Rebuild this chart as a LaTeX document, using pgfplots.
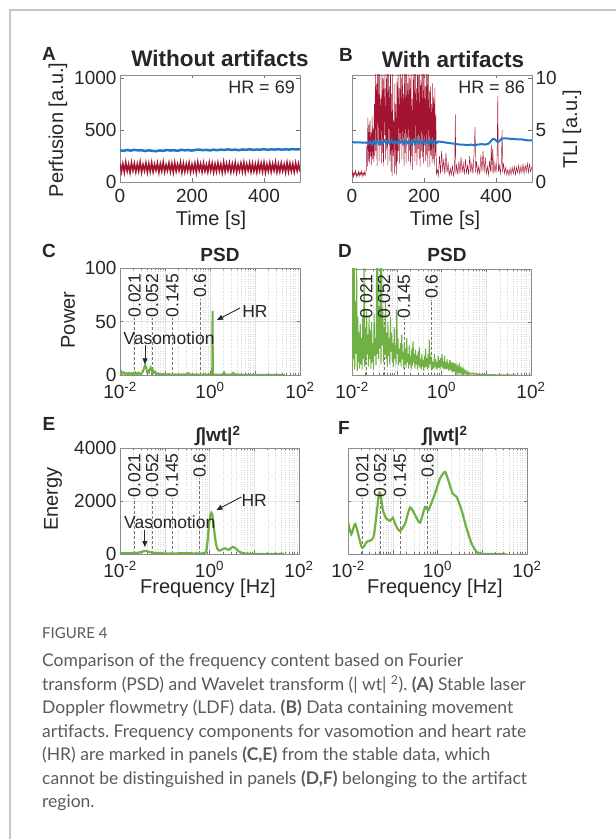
\documentclass[border=0pt]{standalone}
\usepackage{fontspec}
\setmainfont{Liberation Sans}
\newfontfamily\capfont{Lato}
\usepackage{pgfplots}
\pgfplotsset{compat=1.18}
\usetikzlibrary{arrows.meta}
\frenchspacing
\definecolor{mred}{RGB}{162,20,47}
\definecolor{mblue}{RGB}{30,120,200}
\definecolor{mgreen}{RGB}{113,176,68}
\definecolor{txt}{RGB}{38,38,38}
\definecolor{capgray}{RGB}{90,90,90}
\newcommand\fs[1]{\fontsize{#1}{#1}\selectfont}
\pgfplotsset{
  mybase/.style={scale only axis, anchor=south west,
    axis line style={draw=black!45, line width=0.6pt},
    every tick/.style={black!55, line width=0.5pt},
    tick align=inside, major tick length=3.5pt, minor tick length=2pt,
    tick label style={font=\fs{19}, text=txt},
    xticklabel style={yshift=-4pt},
    clip=true},
  myspec/.style={mybase, xmin=0.01, xmax=100,
    xtick={0.01,0.1,1,10,100},
    xticklabels={10\textsuperscript{-2},,10\textsuperscript{0},,10\textsuperscript{2}},
    minor xtick={0.02,0.03,0.04,0.05,0.06,0.07,0.08,0.09,0.2,0.3,0.4,0.5,0.6,0.7,0.8,0.9,2,3,4,5,6,7,8,9,20,30,40,50,60,70,80,90},
    xmajorgrids, xminorgrids, ymajorgrids,
    major grid style={black!12, line width=0.4pt},
    minor grid style={black!16, dotted, line width=0.4pt}},
}
\tikzset{
  vl/.style={black!55, dash pattern=on 3pt off 2pt, line width=0.6pt},
  vlab/.style={rotate=90, anchor=east, font=\fs{17.5}, text=txt, inner sep=0pt},
  ann/.style={font=\fs{17.5}, text=txt, inner sep=0pt},
  arr/.style={-{Triangle[length=6pt,width=5pt]}, line width=0.9pt, draw=txt},
}
\begin{document}
\begin{tikzpicture}
\path[use as bounding box] (0pt,0pt) rectangle (616pt,839pt);
\draw[black!22, line width=1.2pt] (10pt,0pt) -- (10pt,829pt) -- (616pt,829pt);

% ---------------- A ----------------
\begin{axis}[mybase, at={(120pt,657pt)}, width=180pt, height=107pt,
  xmin=0, xmax=500, ymin=0, ymax=1030,
  xtick={0,200,400}, xticklabels={0,200,400},
  ytick={0,500,1000}, yticklabels={0,500,1000}]
\addplot[mred, line width=1.6pt] coordinates {(0,180)(4,100)(8,175)(12,95)(16,188)(20,105)(24,170)(28,92)(32,185)(36,110)(40,178)(44,98)(48,172)(52,104)(56,190)(60,96)(64,168)(68,108)(72,183)(76,94)(80,176)(84,102)(88,186)(92,99)(96,170)(100,112)(104,181)(108,93)(112,174)(116,106)(120,189)(124,97)(128,166)(132,109)(136,182)(140,101)(144,177)(148,95)(152,185)(156,103)(160,171)(164,111)(168,187)(172,94)(176,179)(180,100)(184,173)(188,107)(192,184)(196,96)(200,169)(204,105)(208,180)(212,92)(216,188)(220,110)(224,175)(228,99)(232,182)(236,104)(240,167)(244,97)(248,186)(252,108)(256,178)(260,95)(264,172)(268,102)(272,183)(276,106)(280,170)(284,93)(288,189)(292,100)(296,176)(300,109)(304,181)(308,97)(312,174)(316,104)(320,185)(324,94)(328,168)(332,107)(336,180)(340,101)(344,187)(348,96)(352,173)(356,111)(360,182)(364,98)(368,177)(372,103)(376,171)(380,95)(384,184)(388,108)(392,179)(396,100)(400,186)(404,93)(408,170)(412,105)(416,183)(420,99)(424,175)(428,110)(432,188)(436,96)(440,172)(444,102)(448,181)(452,107)(456,169)(460,94)(464,185)(468,100)(472,178)(476,104)(480,174)(484,97)(488,182)(492,109)(496,176)(500,101)};
\addplot[mblue, line width=2.5pt] coordinates {(0,305)(10,300)(20,308)(30,302)(40,310)(50,304)(60,306)(70,298)(80,305)(90,300)(100,296)(110,304)(120,300)(130,308)(140,303)(150,306)(160,300)(170,310)(180,305)(190,308)(200,302)(210,309)(220,312)(230,306)(240,310)(250,304)(260,311)(270,306)(280,312)(290,308)(300,314)(310,309)(320,312)(330,306)(340,313)(350,310)(360,315)(370,309)(380,313)(390,311)(400,316)(410,310)(420,314)(430,312)(440,316)(450,311)(460,315)(470,312)(480,317)(490,313)(500,316)};
\end{axis}

% ---------------- B ----------------
\begin{axis}[mybase, at={(352pt,657pt)}, width=180pt, height=107pt,
  xmin=0, xmax=500, ymin=0, ymax=10.3,
  xtick={0,200,400}, xticklabels={0,200,400},
  ytick={0,5,10}, yticklabels={0,5,10}, yticklabel pos=right]
\addplot[mred, line width=0.45pt] coordinates {(0,0.6)(2,1.0)(4,0.5)(6,0.9)(8,0.7)(10,1.1)(12,0.5)(14,0.8)(16,0.6)(18,1.0)(20,0.55)(22,0.95)(24,0.7)(26,1.05)(28,0.5)(30,0.9)(32,0.65)(34,1.0)(36,0.6)(38,0.85)(40,1.2)
(41,3.5)(42.5,1.5)(44,6.2)(45.5,2.0)(47,5.5)(48.5,1.8)(50,6.0)(51.5,2.5)(53,4.8)(54.5,1.6)(56,6.3)(57.5,2.2)(59,5.2)(60.5,1.9)(62,7.5)
(63.5,2.5)(65,11)(66.5,3)(68,9.5)(69.5,1.5)(71,11)(72.5,4)(74,10.5)(75.5,2)(77,11)(78.5,3.5)(80,8)(81.5,1.8)(83,11)(84.5,2.8)(86,10)(87.5,1.5)(89,11)(90.5,4.5)(92,9)(93.5,2.2)(95,11)(96.5,3)(98,10.8)(99.5,1.6)(101,11)(102.5,3.8)(104,9.2)(105.5,2)(107,11)
(108.5,1.0)(110,8.5)(111.5,0.6)(113,10.8)(114.5,2.5)(116,6)(117.5,0.8)(119,9.5)(120.5,1.5)(122,7.5)(123.5,0.7)(125,10)(126.5,2)
(128,11)(129.5,3)(131,9)(132.5,1.8)(134,11)(135.5,4)(137,10)(138.5,2.2)(140,11)(141.5,3.5)(143,8.5)(144.5,1.5)(146,11)(147.5,2.8)(149,10.5)(150.5,1.8)(152,11)(153.5,4.2)(155,9.5)(156.5,2)(158,11)(159.5,3)(161,10)(162.5,1.5)(164,11)(165.5,2.5)(167,8)(168.5,1.2)(170,11)(171.5,3.8)(173,10.5)(174.5,2)(176,11)(177.5,2.8)(179,9)(180.5,1.6)(182,11)(183.5,3.2)(185,10.2)(186.5,2.2)(188,11)(189.5,1.5)(191,9.8)(192.5,3)(194,11)(195.5,2.4)(197,10.5)(198.5,1.8)(200,11)(201.5,3.5)(203,9.2)(204.5,2)(206,11)(207.5,2.6)(209,10.8)(210.5,1.4)(212,11)(213.5,3)
(215,8.8)(216.5,1.5)(218,9.2)(219.5,2.5)(221,7.5)(222.5,1.8)(224,9.5)(225.5,2.2)(227,8.2)(228.5,1.5)(230,9)(231.5,2.5)(233,6.5)(234.5,0.8)
(237,1.2)(240,0.6)(243,2.5)(246,0.8)(249,3.0)(252,1.0)(255,2.2)(258,0.7)(261,2.8)(264,0.9)(267,1.8)(270,0.6)(273,1.3)(276,0.7)(279,1.5)(282,0.6)(285,1.2)(287,6.5)(288.5,0.8)(291,1.6)(294,0.7)(297,2.0)(300,0.8)(303,2.4)(306,0.9)(309,1.8)(312,0.7)(315,2.2)(318,0.9)(321,1.6)(324,0.7)(327,2.5)(330,0.9)(333,1.8)(336,0.8)(339,2.8)(342,5.3)(343.5,0.9)(346,2.0)(349,0.8)(352,1.5)(355,0.7)(358,2.6)(361,1.0)(364,3.0)(367,0.9)(370,2.4)(373,0.8)(376,1.5)(379,0.7)(382,2.0)(385,1.0)(387,3.6)(389,0.9)(391,3.2)(394,0.8)(397,1.8)(400,0.9)(403,2.2)(405,8.3)(406.5,1.0)(409,1.6)(412,0.8)(415,2.0)(417,5.0)(418.5,0.9)(421,1.8)(424,0.8)(427,1.4)(430,0.7)(433,1.2)(436,0.6)(439,1.3)(442,0.7)(445,1.4)(448,0.8)(451,1.5)(454,0.7)(457,1.4)(460,0.9)(463,1.6)(466,0.8)(469,1.5)(472,0.9)(475,1.7)(478,0.8)(481,1.6)(484,1.0)(487,1.8)(490,0.9)(493,1.7)(496,1.0)(500,1.5)};
\addplot[mblue, line width=2pt] coordinates {(0,3.85)(10,3.8)(20,3.82)(30,3.78)(40,3.8)(45,3.65)(50,3.9)(55,3.6)(60,3.95)(65,3.7)(70,4.0)(75,3.65)(80,3.9)(85,3.7)(90,4.0)(95,3.75)(100,3.95)(105,3.7)(110,4.05)(115,3.75)(120,3.9)(125,3.7)(130,4.0)(135,3.8)(140,3.95)(145,3.7)(150,4.0)(155,3.75)(160,3.9)(165,3.65)(170,4.05)(175,3.7)(180,4.1)(185,3.75)(190,3.95)(195,3.7)(200,4.0)(205,3.8)(210,3.95)(215,3.65)(220,4.0)(225,3.7)(230,3.95)(235,3.75)(240,3.9)(250,3.85)(260,3.8)(270,3.75)(280,3.7)(290,3.65)(300,3.6)(310,3.6)(320,3.55)(330,3.6)(340,3.55)(350,3.6)(360,3.65)(370,3.6)(380,3.7)(385,3.9)(390,4.1)(395,4.15)(400,4.0)(405,3.85)(410,3.95)(415,4.15)(420,4.2)(430,4.2)(440,4.15)(450,4.15)(460,4.1)(470,4.1)(480,4.05)(490,4.0)(500,4.0)};
\end{axis}

% ---------------- C ----------------
\begin{axis}[xmode=log, myspec, at={(120pt,464pt)}, width=180pt, height=107pt,
  ymin=0, ymax=100, ytick={0,50,100}, yticklabels={0,50,100}]
\addplot[vl] coordinates {(0.021,0) (0.021,53)};
\addplot[vl] coordinates {(0.052,0) (0.052,53)};
\addplot[vl] coordinates {(0.145,0) (0.145,53)};
\addplot[vl] coordinates {(0.6,0) (0.6,71)};
\addplot[mgreen, line width=2pt] coordinates {(0.010,2)(0.0105,3.5)(0.011,1)(0.012,2.5)(0.013,0.8)(0.014,1.8)(0.015,0.6)(0.016,2)(0.017,1)(0.018,1.5)(0.019,0.5)(0.02,1.8)(0.021,1)(0.022,2.2)(0.023,0.8)(0.024,1.5)(0.025,0.6)(0.026,2)(0.028,1)(0.03,1.5)(0.032,3)(0.034,6)(0.036,9.5)(0.038,7)(0.040,3)(0.042,4)(0.044,2.5)(0.046,5)(0.048,7)(0.050,6)(0.052,3)(0.054,4.5)(0.056,2)(0.06,3)(0.065,1)(0.07,1.5)(0.08,0.5)(0.09,0.8)(0.1,0.4)(0.12,0.8)(0.14,0.3)(0.17,0.5)(0.2,0.3)(0.25,0.6)(0.3,0.4)(0.33,1.8)(0.36,0.5)(0.4,0.3)(0.5,0.4)(0.6,0.3)(0.8,0.3)(1.0,0.3)(1.12,0.5)(1.14,60)(1.16,0.5)(1.3,0.3)(1.6,0.3)(1.9,0.4)(2.05,2.5)(2.2,0.3)(2.6,0.3)(3.0,0.5)(3.3,2)(3.6,0.3)(5,0.2)(8,0.1)(15,0.1)(30,0.1)(46,0.1)};
\node[vlab] at (axis cs:0.021,95) {0.021};
\node[vlab] at (axis cs:0.052,95) {0.052};
\node[vlab] at (axis cs:0.145,95) {0.145};
\node[vlab] at (axis cs:0.6,95) {0.6};
\node[ann] at (rel axis cs:0.75,0.589) {HR};
\draw[arr] (rel axis cs:0.667,0.626) -- (rel axis cs:0.539,0.514);
\node[ann] at (rel axis cs:0.272,0.346) {Vasomotion};
\draw[arr] (rel axis cs:0.139,0.28) -- (rel axis cs:0.139,0.10);
\end{axis}

% ---------------- D ----------------
\begin{axis}[xmode=log, myspec, at={(352pt,464pt)}, width=179pt, height=106pt,
  ymin=0, ymax=100, ytick={0,50,100}, yticklabels={,,}]
\addplot[vl] coordinates {(0.021,0) (0.021,53)};
\addplot[vl] coordinates {(0.052,0) (0.052,53)};
\addplot[vl] coordinates {(0.145,0) (0.145,53)};
\addplot[vl] coordinates {(0.6,0) (0.6,71)};
\addplot[mgreen, line width=1pt] coordinates {(0.0100,110)(0.0103,8)(0.0106,105)(0.0109,15)(0.0112,110)(0.0115,5)(0.0119,70)(0.0123,20)(0.0127,110)(0.0131,4)(0.0135,55)(0.0139,12)(0.0143,40)(0.0148,6)(0.0153,48)(0.0158,10)(0.0163,35)(0.0168,5)(0.0174,55)(0.0180,15)(0.0186,110)(0.0192,8)(0.0198,45)(0.0205,10)(0.0212,60)(0.0219,20)(0.0226,38)(0.0233,8)(0.0241,55)(0.0249,15)(0.0257,42)(0.0265,6)(0.0274,50)(0.0283,12)(0.0292,30)(0.0302,5)(0.0312,58)(0.0322,18)(0.0333,35)(0.0344,9)(0.0355,110)(0.0367,20)(0.0379,110)(0.0391,15)(0.0404,65)(0.0417,25)(0.0431,110)(0.0445,10)(0.0460,110)(0.0475,28)(0.0490,60)(0.0506,12)(0.0523,45)(0.0540,20)(0.0558,70)(0.0576,15)(0.0595,40)(0.0615,8)(0.0635,50)(0.0656,18)(0.0677,35)(0.0700,10)(0.0723,55)(0.0746,22)(0.0771,40)(0.0796,12)(0.0822,30)(0.0849,8)(0.0877,45)(0.0906,15)(0.0936,28)(0.0967,10)(0.0998,62)(0.1031,20)(0.1065,35)(0.110,9)(0.1136,25)(0.1174,12)(0.1212,30)(0.1252,8)(0.1293,38)(0.1336,15)(0.138,22)(0.1425,6)(0.1472,30)(0.152,10)(0.157,25)(0.1622,7)(0.1675,35)(0.173,12)(0.1787,20)(0.1846,6)(0.1907,28)(0.197,10)(0.2034,18)(0.2101,5)(0.217,25)(0.2242,9)(0.2315,32)(0.2392,12)(0.247,20)(0.2551,6)(0.2635,24)(0.2722,10)(0.2811,18)(0.2904,5)(0.2999,22)(0.3098,9)(0.32,26)(0.3305,7)(0.3414,15)(0.3526,5)(0.3642,20)(0.3762,8)(0.3886,14)(0.4013,4)(0.4145,18)(0.4282,7)(0.4423,25)(0.4568,8)(0.4718,16)(0.4874,5)(0.5034,20)(0.52,7)(0.537,33)(0.555,10)(0.573,18)(0.592,6)(0.611,14)(0.632,5)(0.652,12)(0.674,6)(0.696,20)(0.719,8)(0.742,15)(0.767,5)(0.792,12)(0.818,6)(0.845,18)(0.873,7)(0.902,14)(0.931,5)(0.962,16)(0.994,8)(1.03,20)(1.06,7)(1.09,13)(1.13,5)(1.17,18)(1.2,6)(1.24,12)(1.28,5)(1.33,15)(1.37,6)(1.41,11)(1.46,4)(1.51,14)(1.56,5)(1.61,10)(1.66,4)(1.72,12)(1.77,5)(1.83,9)(1.89,3)(1.95,11)(2.02,4)(2.08,8)(2.15,3)(2.22,9)(2.3,3)(2.37,7)(2.45,2.5)(2.53,8)(2.61,3)(2.7,6)(2.79,2)(2.88,6)(2.97,2)(3.07,5)(3.17,1.8)(3.28,4)(3.38,1.5)(3.5,3.5)(3.61,1.2)(3.73,3)(3.85,1)(4.0,2.5)(4.2,1)(4.4,2)(4.6,0.8)(4.9,1.8)(5.2,0.7)(5.5,1.5)(5.8,0.6)(6.2,1.2)(6.6,0.5)(7.0,1)(7.5,0.4)(8,0.8)(8.5,0.3)(9,0.6)(10,0.3)(11,0.5)(12,0.2)(14,0.3)(17,0.2)(20,0.2)(30,0.1)(46,0.1)};
\node[vlab] at (axis cs:0.021,95) {0.021};
\node[vlab] at (axis cs:0.052,95) {0.052};
\node[vlab] at (axis cs:0.145,95) {0.145};
\node[vlab] at (axis cs:0.6,95) {0.6};
\end{axis}

% ---------------- E ----------------
\begin{axis}[xmode=log, myspec, at={(120pt,285pt)}, width=179pt, height=106pt,
  ymin=0, ymax=4000, ytick={0,2000,4000}, yticklabels={0,2000,4000}]
\addplot[vl] coordinates {(0.021,0) (0.021,2130)};
\addplot[vl] coordinates {(0.052,0) (0.052,2130)};
\addplot[vl] coordinates {(0.145,0) (0.145,2130)};
\addplot[vl] coordinates {(0.6,0) (0.6,2860)};
\addplot[mgreen, line width=2.2pt, smooth, tension=0.4] coordinates {(0.01,30)(0.015,30)(0.02,35)(0.025,45)(0.03,75)(0.034,105)(0.037,115)(0.04,105)(0.045,80)(0.05,60)(0.06,40)(0.08,28)(0.1,22)(0.15,22)(0.2,25)(0.3,28)(0.4,25)(0.5,22)(0.6,22)(0.7,25)(0.8,40)(0.85,120)(0.9,450)(0.95,900)(1.0,1250)(1.05,1480)(1.1,1555)(1.15,1500)(1.22,1200)(1.3,750)(1.4,380)(1.5,200)(1.62,130)(1.78,140)(2.0,190)(2.25,215)(2.5,170)(2.75,160)(3.0,220)(3.3,270)(3.6,250)(4.0,180)(4.5,100)(5.2,45)(6,18)(7,8)(9,3)(15,2)(46,2)};
\node[vlab] at (axis cs:0.021,3800) {0.021};
\node[vlab] at (axis cs:0.052,3800) {0.052};
\node[vlab] at (axis cs:0.145,3800) {0.145};
\node[vlab] at (axis cs:0.6,3800) {0.6};
\node[ann] at (rel axis cs:0.75,0.509) {HR};
\draw[arr] (rel axis cs:0.678,0.538) -- (rel axis cs:0.539,0.415);
\node[ann] at (rel axis cs:0.278,0.302) {Vasomotion};
\draw[arr] (rel axis cs:0.139,0.226) -- (rel axis cs:0.139,0.066);
\end{axis}

% ---------------- F ----------------
\begin{axis}[xmode=log, myspec, at={(348pt,285pt)}, width=179pt, height=106pt,
  ymin=0, ymax=4000, ytick={0,2000,4000}, yticklabels={,,}]
\addplot[vl] coordinates {(0.021,0) (0.021,2130)};
\addplot[vl] coordinates {(0.052,0) (0.052,2130)};
\addplot[vl] coordinates {(0.145,0) (0.145,2130)};
\addplot[vl] coordinates {(0.6,0) (0.6,2860)};
\addplot[mgreen, line width=2.2pt, smooth, tension=0.4] coordinates {(0.01,1216)(0.01186,740)(0.01455,1128)(0.0204,250)(0.0265,464)(0.0372,652)(0.0482,2157)(0.0525,2307)(0.0603,1655)(0.0713,1342)(0.0877,1254)(0.1005,1367)(0.119,1053)(0.146,865)(0.189,1154)(0.244,1755)(0.315,1467)(0.407,1179)(0.527,1780)(0.625,1655)(0.879,2282)(1.138,2846)(1.469,3097)(1.742,2784)(2.178,2282)(2.673,2157)(3.451,1655)(4.467,965)(5.754,401)(7.447,88)(9.62,5)(34.7,5)};
\node[vlab] at (axis cs:0.021,3800) {0.021};
\node[vlab] at (axis cs:0.052,3800) {0.052};
\node[vlab] at (axis cs:0.145,3800) {0.145};
\node[vlab] at (axis cs:0.6,3800) {0.6};
\end{axis}

% ---------------- texts ----------------
\begin{scope}[every node/.style={text=txt, inner sep=0pt}]
\node[font=\bfseries\fs{19}] at (49pt,785.5pt) {A};
\node[font=\bfseries\fs{19}] at (346pt,784pt) {B};
\node[font=\bfseries\fs{19}] at (49pt,588pt) {C};
\node[font=\bfseries\fs{19}] at (345pt,588pt) {D};
\node[font=\bfseries\fs{19}] at (49pt,415pt) {E};
\node[font=\bfseries\fs{19}] at (344pt,411.5pt) {F};
\node[font=\bfseries\fs{22.5}, anchor=base] at (220pt,772pt) {Without artifacts};
\node[font=\bfseries\fs{22.5}, anchor=base] at (453pt,771pt) {With artifacts};
\node[font=\bfseries\fs{19}, anchor=base] at (220pt,577pt) {PSD};
\node[font=\bfseries\fs{19}, anchor=base] at (447pt,577pt) {PSD};
\node[font=\bfseries\fs{19}, anchor=base] at (218pt,397pt) {∫|wt|\textsuperscript{2}};
\node[font=\bfseries\fs{19}, anchor=base] at (445pt,397pt) {∫|wt|\textsuperscript{2}};
\node[font=\fs{18}, anchor=base east] at (295pt,745.7pt) {HR = 69};
\node[font=\fs{18}, anchor=base east] at (525pt,745.7pt) {HR = 86};
\node[font=\fs{20}, rotate=90] at (58pt,709pt) {Perfusion [a.u.]};
\node[font=\fs{20}, rotate=90] at (572pt,710pt) {TLI [a.u.]};
\node[font=\fs{20}, anchor=base] at (211pt,613pt) {Time [s]};
\node[font=\fs{20}, anchor=base] at (445pt,613pt) {Time [s]};
\node[font=\fs{20}, rotate=90] at (68pt,519pt) {Power};
\node[font=\fs{20}, rotate=90] at (53pt,340pt) {Energy};
\node[font=\fs{20}, anchor=base] at (208pt,245pt) {Frequency [Hz]};
\node[font=\fs{20}, anchor=base] at (435pt,245pt) {Frequency [Hz]};
\end{scope}

% ---------------- caption ----------------
\begin{scope}[every node/.style={text=capgray, inner sep=0pt, anchor=base west, font=\capfont\fs{17.5}}]
\node[font=\capfont\fs{15}] at (42pt,200pt) {FIGURE 4};
\node at (42pt,172pt) {Comparison of the frequency content based on Fourier};
\node at (42pt,148.5pt) {transform (PSD) and Wavelet transform (| wt| \textsuperscript{2}). \textbf{(A)} Stable laser};
\node at (42pt,125pt) {Doppler flowmetry (LDF) data. \textbf{(B)} Data containing movement};
\node at (42pt,101.5pt) {artifacts. Frequency components for vasomotion and heart rate};
\node at (42pt,78pt) {(HR) are marked in panels \textbf{(C,E)} from the stable data, which};
\node at (42pt,54.5pt) {cannot be distinguished in panels \textbf{(D,F)} belonging to the artifact};
\node at (42pt,31pt) {region.};
\end{scope}
\end{tikzpicture}
\end{document}
